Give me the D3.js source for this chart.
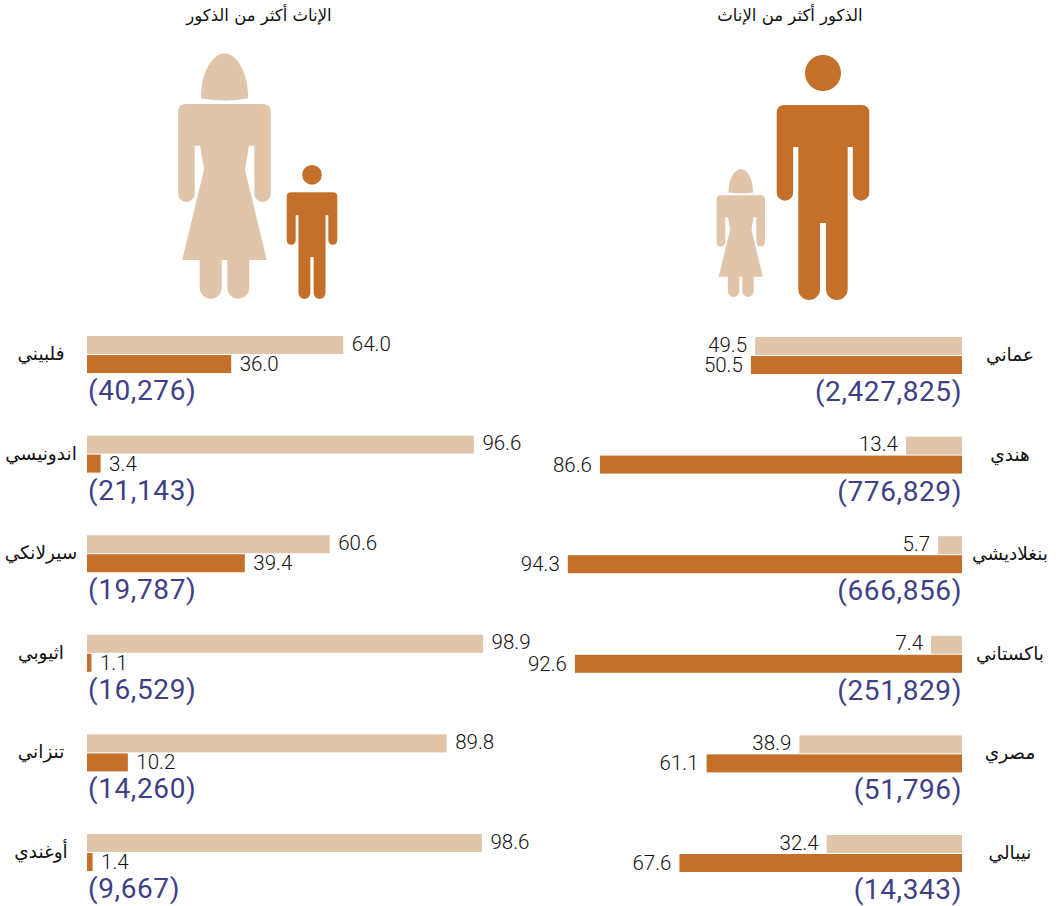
<!DOCTYPE html>
<html lang="ar">
<head>
<meta charset="utf-8">
<script src="https://cdn.jsdelivr.net/npm/d3@7"></script>
<style>
  html, body { margin: 0; padding: 0; background: #fff; }
  .value { font-family: Roboto, sans-serif; font-size: 20.5px; font-weight: 300; fill: #111; }
  .count { font-family: Roboto, sans-serif; font-size: 28px; letter-spacing: 0.6px; fill: #3f3f87; }
  .country { font-family: "DejaVu Sans", sans-serif; font-size: 18.5px; fill: #111; }
  .title { font-family: "DejaVu Sans", sans-serif; font-size: 16.5px; fill: #111; }
</style>
</head>
<body>
<svg id="chart"></svg>
<script>
// women outnumber men (left)
const leftCountries = ["فلبيني", "اندونيسي", "سيرلانكي", "اثيوبي", "تنزاني", "أوغندي"];
const leftFemale = [64.0, 96.6, 60.6, 98.9, 89.8, 98.6];
const leftMale = [36.0, 3.4, 39.4, 1.1, 10.2, 1.4];
const leftCounts = [40276, 21143, 19787, 16529, 14260, 9667];

// men outnumber women (right)
const rightCountries = ["عماني", "هندي", "بنغلاديشي", "باكستاني", "مصري", "نيبالي"];
const rightFemale = [49.5, 13.4, 5.7, 7.4, 38.9, 32.4];
const rightMale = [50.5, 86.6, 94.3, 92.6, 61.1, 67.6];
const rightCounts = [2427825, 776829, 666856, 251829, 51796, 14343];

const TAN = "#e1c5ab";
const ORANGE = "#c4702a";

const svg = d3.select("#chart").attr("width", 1058).attr("height", 906)
    .style("display", "block");

// icons are drawn around bottom centre, at the size of the big figure
const manBody = "M-38.3,-195 H38.3 Q46.3,-195 46.3,-187 V-107.5 A8.25,8.25 0 0 1 29.8,-107.5 V-153 H24.7 V-10.8 A10.85,10.85 0 0 1 3,-10.8 V-77 H-3 V-10.8 A10.85,10.85 0 0 1 -24.7,-10.8 V-153 H-29.8 V-107.5 A8.25,8.25 0 0 1 -46.3,-107.5 V-187 Q-46.3,-195 -38.3,-195 Z";
const womanBody = "M-38.3,-194.7 H38.3 Q46.3,-194.7 46.3,-186.7 V-105 A8.25,8.25 0 0 1 29.8,-105 V-153 H24.5 L20.4,-129.4 L42.3,-38.7 H24.8 V-11 A11,11 0 0 1 2.8,-11 V-38.7 H-2.8 V-11 A11,11 0 0 1 -24.8,-11 V-38.7 H-42.3 L-20.4,-129.4 L-24.5,-153 H-29.8 V-105 A8.25,8.25 0 0 1 -46.3,-105 V-186.7 Q-46.3,-194.7 -38.3,-194.7 Z";
const womanHead = "M-23.6,-200.4 C-23.6,-230 -10,-245.4 0,-245.4 C10,-245.4 23.6,-230 23.6,-200.4 Q0,-196 -23.6,-200.4 Z";

const drawMan = (cx, bottom, size) => {
    const g = svg.append("g").attr("transform", `translate(${cx},${bottom}) scale(${size})`).attr("fill", ORANGE);
    g.append("circle").attr("cy", -227).attr("r", 18);
    g.append("path").attr("d", manBody);
};

const drawWoman = (cx, bottom, size) => {
    const g = svg.append("g").attr("transform", `translate(${cx},${bottom}) scale(${size})`).attr("fill", TAN);
    g.append("path").attr("d", womanHead);
    g.append("path").attr("d", womanBody);
};

const drawPanel = ({ countries, female, male, counts, x, top, labelX, side }) => {
    const y = d3.scalePoint().domain(countries).range([top, top + 498]);
    const rows = countries.map((name, i) => ({ name, female: female[i], male: male[i], count: counts[i] }));
    const barH = 18;
    const isLeft = side === "left";
    const anchor = isLeft ? "start" : "end";
    const gap = isLeft ? 8.5 : -8;

    const row = svg.append("g").selectAll("g").data(rows).join("g")
        .attr("transform", d => `translate(0,${y(d.name)})`);

    [["female", TAN, 0, 14.5], ["male", ORANGE, barH + 1, 16]].forEach(([key, color, dy, textDy]) => {
        row.append("rect")
            .attr("x", d => Math.min(x(0), x(d[key])))
            .attr("y", dy)
            .attr("width", d => Math.abs(x(d[key]) - x(0)))
            .attr("height", barH)
            .attr("fill", color);

        row.append("text")
            .attr("class", "value")
            .attr("x", d => x(d[key]) + gap)
            .attr("y", dy + textDy)
            .attr("text-anchor", anchor)
            .text(d => d3.format(".1f")(d[key]));
    });

    row.append("text")
        .attr("class", "count")
        .attr("x", x(0) + (isLeft ? 1 : 0))
        .attr("y", 64)
        .attr("text-anchor", anchor)
        .text(d => `(${d3.format(",")(d.count)})`);

    row.append("text")
        .attr("class", "country")
        .attr("x", labelX)
        .attr("y", 24)
        .attr("text-anchor", "middle")
        .text(d => d.name);
};

svg.append("text").attr("class", "title").attr("x", 259).attr("y", 21).attr("text-anchor", "middle").text("الإناث أكثر من الذكور");
svg.append("text").attr("class", "title").attr("x", 790).attr("y", 21).attr("text-anchor", "middle").text("الذكور أكثر من الإناث");

drawWoman(224.5, 298.7, 1);
drawMan(312, 299, 0.547);
drawMan(823, 300, 1);
drawWoman(740.8, 297, 0.522);

drawPanel({
    countries: leftCountries, female: leftFemale, male: leftMale, counts: leftCounts,
    x: d3.scaleLinear().domain([0, 100]).range([87, 487.5]),
    top: 336, labelX: 41, side: "left"
});

drawPanel({
    countries: rightCountries, female: rightFemale, male: rightMale, counts: rightCounts,
    x: d3.scaleLinear().domain([0, 100]).range([962, 544]),
    top: 337, labelX: 1010, side: "right"
});
</script>
</body>
</html>
